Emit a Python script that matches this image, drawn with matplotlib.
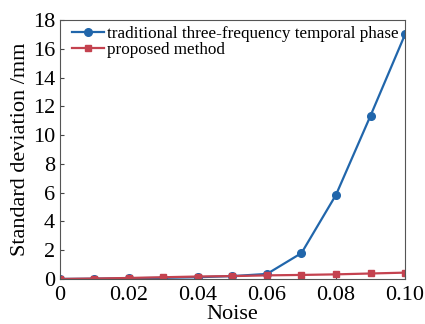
import matplotlib
matplotlib.use("Agg")
import matplotlib.pyplot as plt

noise = [0, 0.01, 0.02, 0.03, 0.04, 0.05, 0.06, 0.07, 0.08, 0.09, 0.10]
traditional = [0, 0.02, 0.05, 0.08, 0.12, 0.2, 0.35, 1.8, 5.85, 11.35, 17.0]
proposed = [0, 0.03, 0.07, 0.12, 0.17, 0.2, 0.25, 0.28, 0.32, 0.38, 0.44]
xticks = [0, 0.02, 0.04, 0.06, 0.08, 0.10]
xticklabels = ["0", "0.02", "0.04", "0.06", "0.08", "0.10"]

plt.rcParams['font.family'] = ['Liberation Serif', 'DejaVu Serif']

fig = plt.figure(figsize=(4.25, 3.24), dpi=100)
ax = fig.add_axes([0.141, 0.139, 0.812, 0.799])

ax.plot(noise, traditional, marker='o', markersize=5.5, color='#2166ab', linewidth=1.6,
        label='traditional three-frequency temporal phase')
ax.plot(noise, proposed, marker='s', markersize=5, color='#c4424f', linewidth=1.6,
        label='proposed method')

ax.set_xlim(0, 0.10)
ax.set_ylim(0, 18)
ax.set_xticks(xticks)
ax.set_xticklabels(xticklabels)
ax.set_yticks(range(0, 19, 2))
ax.tick_params(direction='in', labelsize=16, length=3, color='#444444')
ax.tick_params(axis='x', pad=5)
for s in ax.spines.values():
    s.set_color('#555555')
ax.set_xlabel('Noise', fontsize=16, labelpad=0)
ax.set_ylabel('Standard deviation /mm', fontsize=16, labelpad=2)
ax.legend(loc='upper left', bbox_to_anchor=(0.025, 0.99), fontsize=12.3, frameon=False,
          handlelength=1.9, handletextpad=0.15, borderaxespad=0.0, labelspacing=0.0,
          borderpad=0.2)

fig.savefig('out.png', dpi=100)
